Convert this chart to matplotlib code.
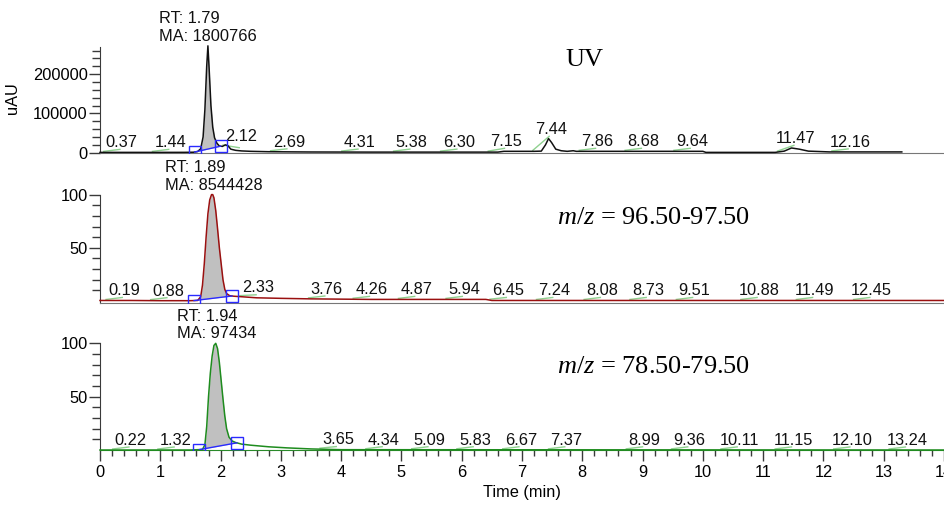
"""Three stacked chromatograms (UV, m/z 96.5-97.5, m/z 78.5-79.5) on a shared
time axis, with the integrated main peak shaded and minor peaks labelled."""

import numpy as np
import matplotlib
matplotlib.use("Agg")
import matplotlib.pyplot as plt
from matplotlib.ticker import MultipleLocator, FixedLocator

plt.rcParams["font.family"] = ["Liberation Sans", "DejaVu Sans"]
plt.rcParams["mathtext.fontset"] = "custom"
plt.rcParams["mathtext.it"] = "Liberation Serif:italic"
plt.rcParams["mathtext.rm"] = "Liberation Serif"

# ---- UV trace (uAU) ----
UV_TIME = [0.0, 0.5, 1.0, 1.4, 1.55, 1.62, 1.67, 1.71, 1.74, 1.77, 1.79, 1.81,
           1.84, 1.87, 1.90, 1.94, 1.98, 2.03, 2.08, 2.12, 2.17, 2.25, 2.35,
           2.5, 2.8, 3.5, 4.5, 5.5, 6.6, 6.7, 7.2, 7.32, 7.39, 7.44, 7.49,
           7.56, 7.65, 7.75, 7.85, 7.9, 8.5, 9.5, 10.0, 10.05, 11.2, 11.35,
           11.47, 11.6, 11.75, 12.1, 13.3]
UV_SIGNAL = [800, 800, 800, 900, 1200, 3000, 10000, 40000, 110000, 220000,
             272000, 215000, 120000, 65000, 38000, 24000, 17000, 16000, 20000,
             18000, 9000, 6000, 4500, 3500, 2500, 1800, 1500, 1500, 1500, 3500,
             3500, 4000, 20000, 36000, 26000, 9000, 5000, 3500, 5000, 3500,
             3500, 3500, 3500, 800, 800, 4000, 12000, 9000, 4000, 2000, 2000]
UV_PEAK_RT = [0.37, 1.44, 2.12, 2.69, 4.31, 5.38, 6.30, 7.15, 7.44, 7.86,
              8.68, 9.64, 11.47, 12.16]
UV_BOUNDS = [1.57, 2.00]
UV_MAIN = ["1.79", "1800766"]

# ---- m/z 96.50-97.50 trace (relative %) ----
MZ97_TIME = [0.0, 0.5, 1.0, 1.5, 1.62, 1.67, 1.70, 1.73, 1.76, 1.79, 1.82,
             1.85, 1.87, 1.89, 1.92, 1.95, 1.98, 2.01, 2.04, 2.07, 2.10, 2.15,
             2.22, 2.35, 2.6, 3.0, 3.5, 4.5, 6.4, 6.5, 14.0]
MZ97_SIGNAL = [0.5, 0.5, 0.3, 0.3, 0.5, 4, 15, 35, 60, 82, 95, 100, 100, 97,
               85, 68, 50, 35, 20, 11, 7, 5, 4.5, 4, 3, 2.5, 2, 1.5, 1.5, 0.5,
               0.5]
MZ97_PEAK_RT = [0.19, 0.88, 2.33, 3.76, 4.26, 4.87, 5.94, 6.45, 7.24, 8.08,
                8.73, 9.51, 10.88, 11.49, 12.45]
MZ97_BOUNDS = [1.56, 2.19]
MZ97_MAIN = ["1.89", "8544428"]

# ---- m/z 78.50-79.50 trace (relative %) ----
MZ79_TIME = [0.0, 1.5, 1.70, 1.74, 1.77, 1.80, 1.83, 1.86, 1.89, 1.92, 1.95,
             1.98, 2.01, 2.04, 2.07, 2.10, 2.14, 2.19, 2.25, 2.35, 2.5, 2.8,
             3.1, 3.5, 4.0, 14.0]
MZ79_SIGNAL = [0, 0, 0.5, 5, 22, 50, 72, 88, 98, 100, 95, 82, 65, 48, 32, 20,
               12, 8.5, 7, 5.5, 4.5, 3, 2, 1, 0.3, 0]
MZ79_PEAK_RT = [0.22, 1.32, 3.65, 4.34, 5.09, 5.83, 6.67, 7.37, 8.99, 9.36,
                10.11, 11.15, 12.10, 13.24]
MZ79_BOUNDS = [1.65, 2.27]
MZ79_MAIN = ["1.94", "97434"]

# where the software put each peak label (layout, not data)
UV_LABEL_X = [0.36, 1.17, 2.34, 3.13, 4.31, 5.17, 5.95, 6.74, 7.48, 8.25,
              9.01, 9.82, 11.54, 12.44]
MZ97_LABEL_X = [0.40, 1.14, 2.62, 3.76, 4.50, 5.25, 6.04, 6.77, 7.54, 8.33,
                9.09, 9.86, 10.93, 11.85, 12.80]
MZ79_LABEL_X = [0.51, 1.26, 3.95, 4.71, 5.47, 6.22, 6.98, 7.74, 9.03, 9.78,
                10.60, 11.50, 12.47, 13.39]

W, H = 944, 508
FS = 11.8
BLUE = "#2a2aff"
SEG_GREEN = "#8fd18f"
AXCOL = "#3a3a3a"


def draw_panel(ax, t, y, color, rts, label_x, bounds, main):
    t = np.asarray(t, dtype=float)
    y = np.asarray(y, dtype=float)
    ylo, yhi = ax.get_ylim()
    upp = (yhi - ylo) / ax.get_window_extent().height  # data units per pixel

    ax.plot(t, y, color=color, lw=1.1, zorder=3, clip_on=False)

    # integrated main peak: grey area above the blue drop baseline
    l, r = bounds
    yl, yr = np.interp([l, r], t, y)
    inside = (t > l) & (t < r)
    tt = np.concatenate([[l], t[inside], [r]])
    yy = np.concatenate([[yl], y[inside], [yr]])
    base = np.interp(tt, [l, r], [yl, yr])
    ax.fill_between(tt, base, yy, color="#c0c0c0", lw=0, zorder=2)
    ax.plot([l, r], [yl, yr], color=BLUE, lw=1, zorder=4)
    ax.plot([l, r], [yl, yr], ls="none", marker="s", ms=8.5, mfc="none",
            mec=BLUE, mew=1, zorder=5)

    for rt, lx in zip(rts, label_x):
        h = np.interp(rt, t, y)
        ax.annotate(f"{rt:.2f}", xy=(lx, h), xytext=(0, 5),
                    textcoords="offset pixels", ha="center", va="baseline",
                    fontsize=FS, color="#111111", annotation_clip=False)
        s0 = np.interp(lx - 0.30, t, y) + 1 * upp
        s1 = np.interp(lx - 0.03, t, y) + 3 * upp
        ax.plot([lx - 0.30, lx - 0.03], [s0, s1], color=SEG_GREEN, lw=1,
                zorder=2.5)

    apex = y.max()
    ax.annotate(f"RT: {main[0]}\nMA: {main[1]}", xy=(float(main[0]), apex),
                xytext=(0, 5), textcoords="offset pixels", ha="center",
                va="baseline", multialignment="left", fontsize=FS,
                linespacing=1.2, color="#111111", annotation_clip=False)


def style_axes(ax):
    for side in ("top", "right"):
        ax.spines[side].set_visible(False)
    ax.spines["left"].set_color(AXCOL)
    ax.spines["bottom"].set_color("#777777")
    ax.set_xlim(0, 14)
    ax.tick_params(axis="y", which="major", length=8, width=1, color=AXCOL,
                   labelsize=FS, pad=1)
    ax.tick_params(axis="y", which="minor", length=6, width=1, color=AXCOL)


def px_axes(top, bottom):
    return [100 / W, 1 - bottom / H, (W - 100) / W, (bottom - top) / H]


fig = plt.figure(figsize=(W / 100, H / 100), dpi=100)

ax1 = fig.add_axes(px_axes(47.4, 152.7))
ax2 = fig.add_axes(px_axes(194.6, 302.6))
ax3 = fig.add_axes(px_axes(343.3, 450.0))

ax1.set_ylim(0, 268000)
ax2.set_ylim(-1.5, 100)
ax3.set_ylim(0, 100)

for ax in (ax1, ax2, ax3):
    style_axes(ax)

ax1.yaxis.set_major_locator(FixedLocator([0, 100000, 200000]))
ax1.yaxis.set_minor_locator(MultipleLocator(20000))
for ax in (ax2, ax3):
    ax.yaxis.set_major_locator(FixedLocator([50, 100]))
    ax.yaxis.set_minor_locator(FixedLocator([10, 20, 30, 40, 60, 70, 80, 90]))

for ax in (ax1, ax2):
    ax.tick_params(axis="x", which="both", bottom=False, labelbottom=False)

ax3.spines["bottom"].set_color("#2a8a2a")
ax3.xaxis.set_major_locator(MultipleLocator(1))
ax3.xaxis.set_minor_locator(MultipleLocator(0.2))
ax3.tick_params(axis="x", which="major", length=7.7, width=1, color=AXCOL,
                labelsize=FS, pad=3)
ax3.tick_params(axis="x", which="minor", length=4.3, width=1, color=AXCOL)
ax3.set_xlabel("Time (min)", fontsize=FS, labelpad=4)

ax1.set_ylabel("uAU", fontsize=FS)
ax1.yaxis.set_label_coords(-0.095, 0.52)

draw_panel(ax1, UV_TIME, UV_SIGNAL, "#111111", UV_PEAK_RT, UV_LABEL_X,
           UV_BOUNDS, UV_MAIN)
draw_panel(ax2, MZ97_TIME, MZ97_SIGNAL, "#9a1010", MZ97_PEAK_RT, MZ97_LABEL_X,
           MZ97_BOUNDS, MZ97_MAIN)
draw_panel(ax3, MZ79_TIME, MZ79_SIGNAL, "#1e8c1e", MZ79_PEAK_RT, MZ79_LABEL_X,
           MZ79_BOUNDS, MZ79_MAIN)

serif = {"family": "Liberation Serif", "size": 19}
fig.text(565 / W, 1 - 60 / H, "UV", va="center", ha="left", fontdict=serif)
fig.text(557 / W, 1 - 218 / H, "$m/z$ = 96.50-97.50", va="center", ha="left",
         fontdict=serif)
fig.text(557 / W, 1 - 367 / H, "$m/z$ = 78.50-79.50", va="center", ha="left",
         fontdict=serif)

fig.savefig("out.png", dpi=100)
print("Wrote out.png")
